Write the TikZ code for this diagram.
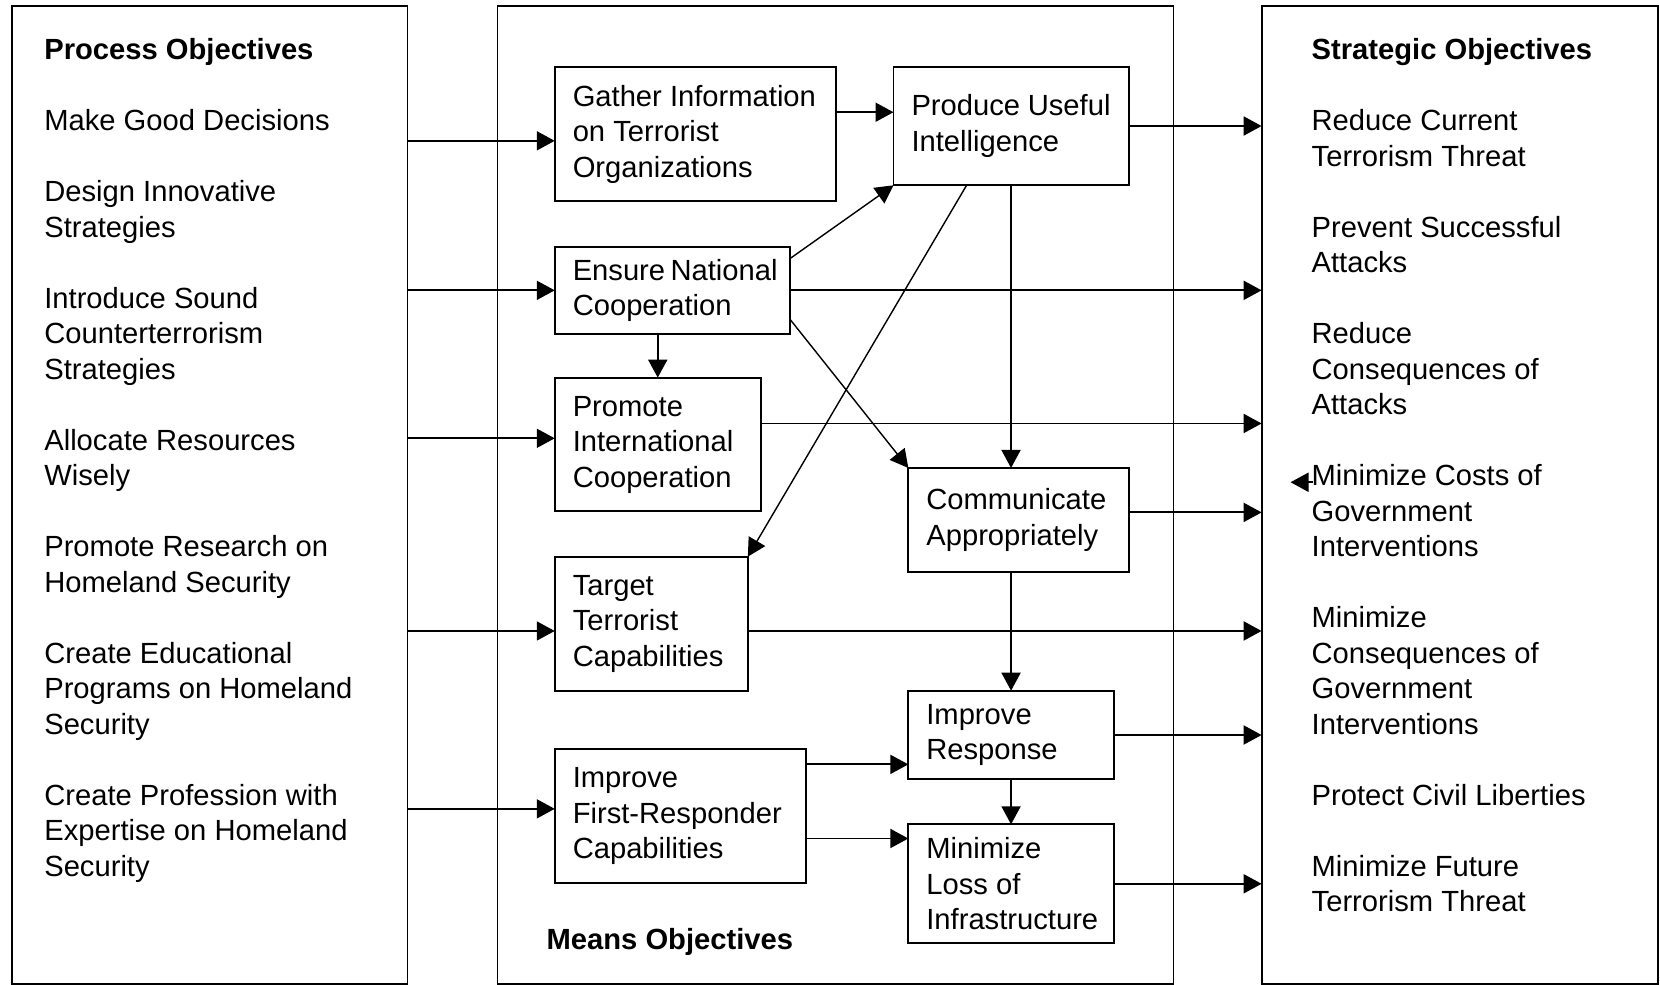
\documentclass[tikz,border=0pt]{standalone}
\usepackage{fontspec}
\setmainfont{Liberation Sans}
\usepackage{tikz}
\usetikzlibrary{arrows.meta, positioning}
\hyphenpenalty=10000
\exhyphenpenalty=10000
\newcommand{\objfont}{\fontsize{8.3}{10.1}\selectfont}
\tikzset {
  panel/.style = {draw, line width=0.5pt, rectangle, anchor=north west, inner sep=0pt, outer sep=0pt, minimum height=97.8mm},
  objtext/.style = {anchor=north west, align=left, inner sep=0pt, font=\objfont},
  meansbox/.style 2 args = {draw, line width=0.55pt, rectangle, anchor=north west, align=flush left, inner xsep=1.8mm, inner ysep=0.5mm, outer sep=0pt, text width=#1, minimum height=#2, font=\objfont},
  line/.style = {->, line width=0.55pt, >={Triangle[length=1.8mm, width=1.9mm]}},
  cross/.style = {line, line width=0.4pt},
}

\begin{document}
\begin{tikzpicture}[x=0.10587mm, y=-0.10587mm]
  \useasboundingbox (0,0) rectangle (1568,930);

  % the three columns
  \node[panel, minimum width=39.57mm] (procpanel) at (11.1,5.7) {};
  \node[panel, minimum width=67.58mm] (meanspanel) at (470,5.7) {};
  \node[panel, minimum width=39.63mm] (stratpanel) at (1191.7,5.7) {};

  \node[objtext] (proctext) at (41.2,35.6) {\textbf{Process Objectives}\\[10.1pt]
    Make Good Decisions\\[10.1pt]
    Design Innovative\\ Strategies\\[10.1pt]
    Introduce Sound\\ Counterterrorism\\ Strategies\\[10.1pt]
    Allocate Resources\\ Wisely\\[10.1pt]
    Promote Research on\\ Homeland Security\\[10.1pt]
    Create Educational\\ Programs on Homeland\\ Security\\[10.1pt]
    Create Profession with\\ Expertise on Homeland\\ Security};
  \node[objtext] (strattext) at (1238.3,35.6) {\textbf{Strategic Objectives}\\[10.1pt]
    Reduce Current\\ Terrorism Threat\\[10.1pt]
    Prevent Successful\\ Attacks\\[10.1pt]
    Reduce\\ Consequences of\\ Attacks\\[10.1pt]
    Minimize Costs of\\ Government\\ Interventions\\[10.1pt]
    Minimize\\ Consequences of\\ Government\\ Interventions\\[10.1pt]
    Protect Civil Liberties\\[10.1pt]
    Minimize Future\\ Terrorism Threat};
  \node[font=\objfont\bfseries, anchor=base west, inner sep=0pt] (meanstext) at (515.7,897) {Means Objectives};

  % means objectives
  \node[meansbox={24.51mm}{13.45mm}] (gather) at (524,63) {Gather~Information\\ on~Terrorist\\ Organizations};
  \node[meansbox={19.90mm}{11.86mm}] (produce) at (844,63) {Produce~Useful\\ Intelligence};
  \node[meansbox={19.96mm}{8.73mm}] (ensure) at (524,233) {Ensure~National\\ Cooperation};
  \node[meansbox={17.00mm}{13.37mm}] (promote) at (524,356.7) {Promote\\ International\\ Cooperation};
  \node[meansbox={18.42mm}{10.38mm}] (communicate) at (858,442) {Communicate\\ Appropriately};
  \node[meansbox={15.71mm}{13.40mm}] (target) at (524,525.8) {Target\\ Terrorist\\ Capabilities};
  \node[meansbox={16.94mm}{8.86mm}] (response) at (858,652.4) {Improve\\ Response};
  \node[meansbox={21.51mm}{13.33mm}] (firstresp) at (524,707.8) {Improve\\ First-Responder\\ Capabilities};
  \node[meansbox={16.94mm}{11.90mm}] (minloss) at (858,778.6) {Minimize\\ Loss~of\\ Infrastructure};

  % from process objectives
  \draw[line] (procpanel.east |- 0,133) -- (gather.west |- 0,133);
  \draw[line] (procpanel.east |- ensure.west) -- (ensure.west);
  \draw[line] (procpanel.east |- 0,414) -- (promote.west |- 0,414);
  \draw[line] (procpanel.east |- 0,596) -- (target.west |- 0,596);
  \draw[line] (procpanel.east |- 0,764) -- (firstresp.west |- 0,764);

  % links between means objectives
  \draw[line] (gather.east |- 0,106) -- (produce.west |- 0,106);
  \draw[line] (promote.north |- ensure.south) -- (promote.north);
  \draw[line] (produce.south) -- (produce.south |- communicate.north);
  \draw[line] (response.north |- communicate.south) -- (response.north);
  \draw[line] (response.south) -- (minloss.north);
  \draw[line] (firstresp.east |- 0,722) -- (response.west |- 0,722);
  \draw[line] (firstresp.east |- 0,792) -- (minloss.west |- 0,792);
  \draw[cross] (ensure.east |- 0,244) -- (produce.south west);
  \draw[cross] (ensure.east |- 0,302) -- (communicate.north west);
  \draw[cross] (produce.south -| 913,0) -- (target.north east);

  % to strategic objectives
  \draw[line] (produce.east) -- (produce.east -| stratpanel.west);
  \draw[line] (ensure.east) -- (ensure.east -| stratpanel.west);
  \draw[line] (promote.east |- 0,400) -- (stratpanel.west |- 0,400);
  \draw[line] (communicate.east |- 0,484) -- (stratpanel.west |- 0,484);
  \draw[line] (target.east |- 0,596) -- (stratpanel.west |- 0,596);
  \draw[line] (response.east) -- (response.east -| stratpanel.west);
  \draw[line] (minloss.east) -- (minloss.east -| stratpanel.west);

  \coordinate (stray) at (1240,455.5);
  \draw[line] (stray) -- ++(-21,0);
\end{tikzpicture}
\end{document}
